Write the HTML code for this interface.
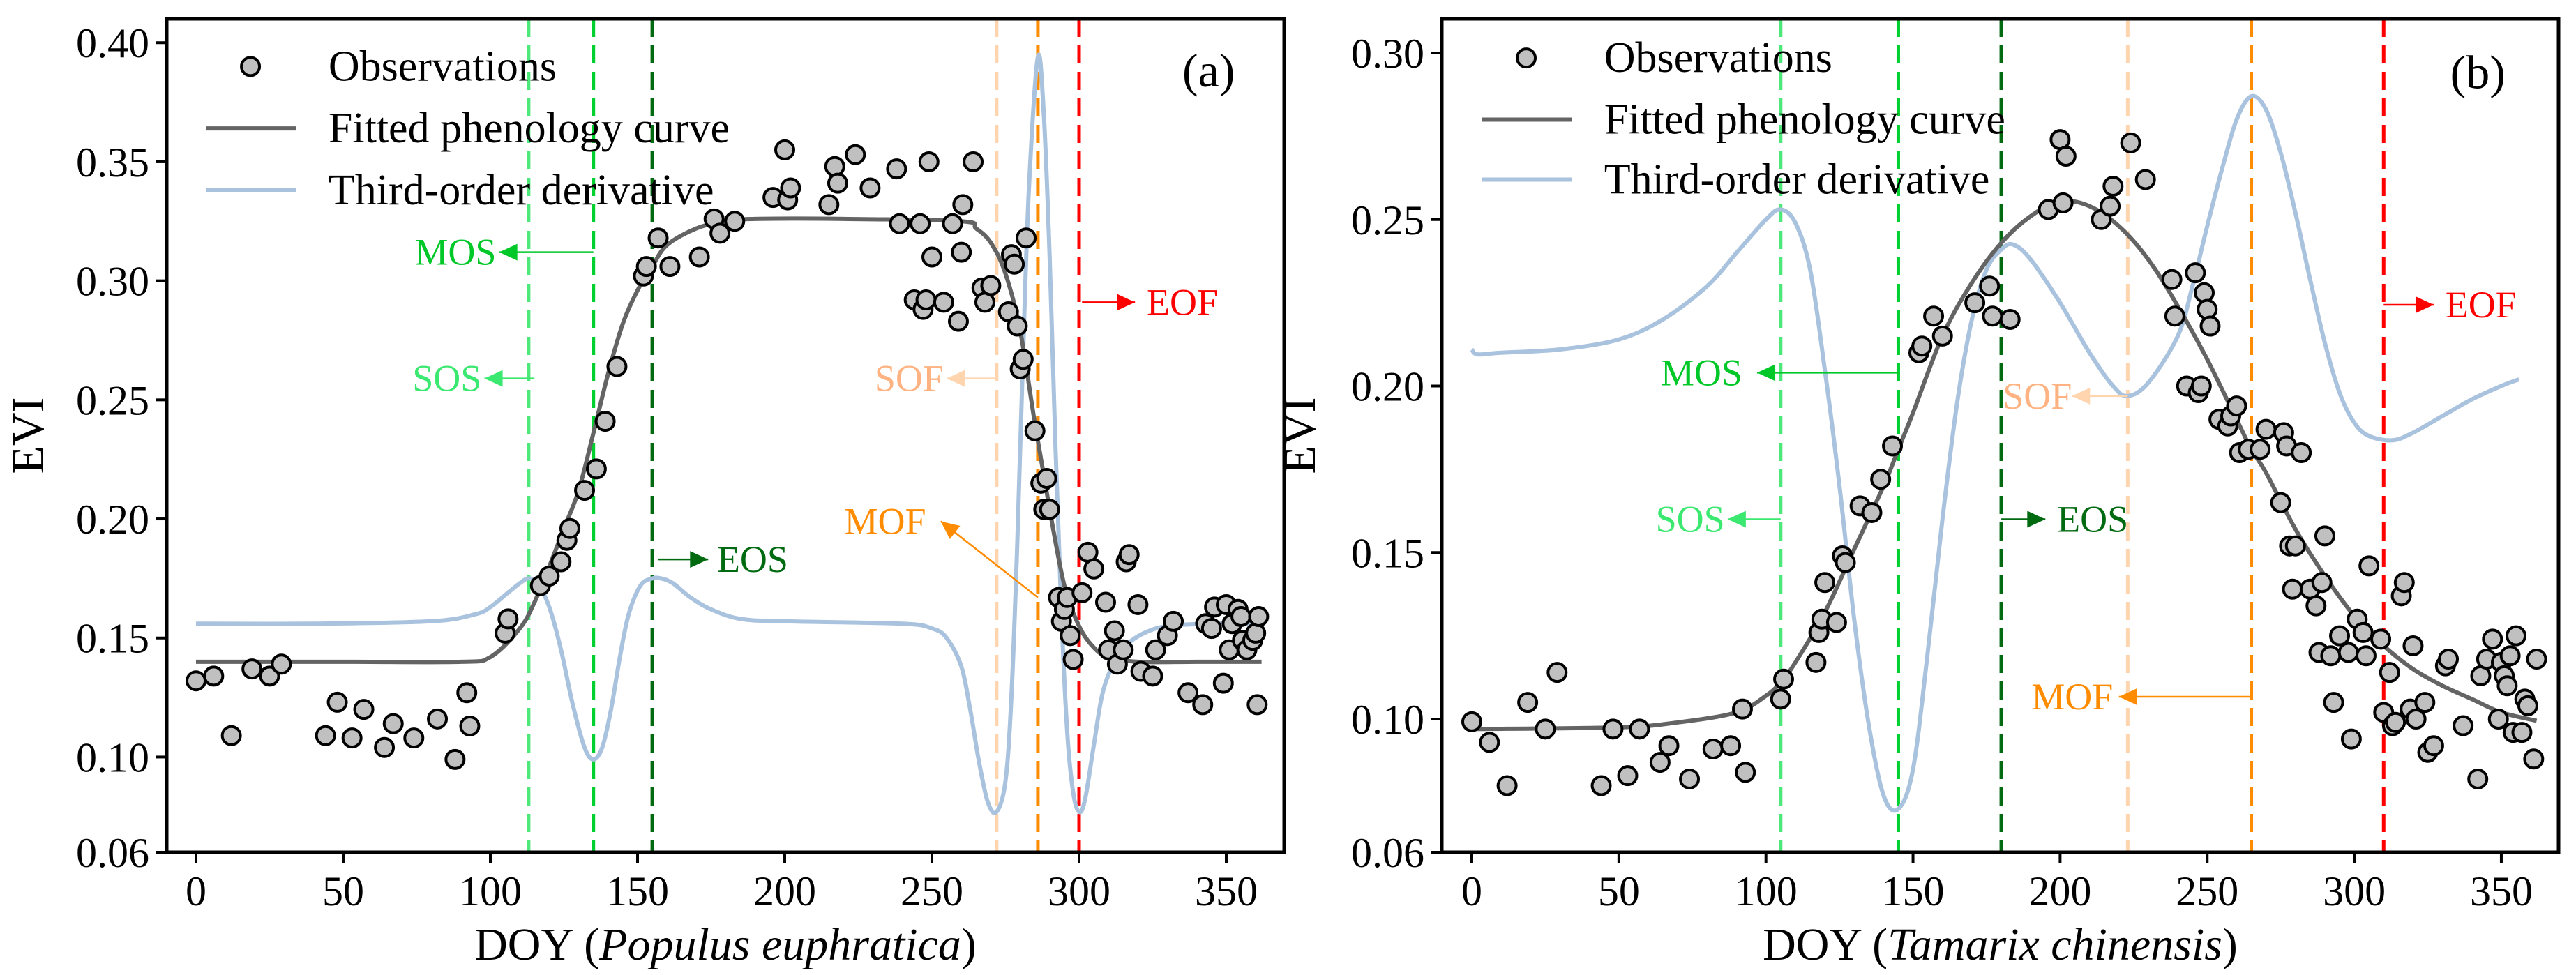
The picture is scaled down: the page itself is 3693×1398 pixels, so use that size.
<!DOCTYPE html>
<html><head><meta charset="utf-8"><style>
html,body{margin:0;padding:0;background:#fff;}
svg{display:block;}
svg text{font-family:"Liberation Serif","DejaVu Serif",serif;}
</style></head><body>
<svg id="fig" width="3693" height="1398" viewBox="0 0 3693 1398" font-family="Liberation Serif, DejaVu Serif, serif"></svg>
<script>
// ---------- Panel (a) data: Populus euphratica ----------
const obsDayA=[0,6,12,19,25,29,44,48,53,57,64,67,74,82,88,92,93,105,106,117,120,124,126,127,132,136,139,143,152,153,157,161,171,176,178,183,196,200,201,202,215,217,218,224,229,238,239,244,246,247,248,249,250,254,257,259,260,260.5,264,267,268,270,276,277,278,279,280,281,282,285,287,289,288,290,293,294,295,296,297,298,301,303,305,309,310,312,313,315,316,317,320,321,325,326,330,332,337,342,343,345,346,349,350,351,352,354,355,355.5,357,359,360,361,360.5];
const obsEviA=[0.132,0.134,0.109,0.137,0.134,0.139,0.109,0.123,0.108,0.120,0.104,0.114,0.108,0.116,0.099,0.127,0.113,0.152,0.158,0.172,0.176,0.182,0.191,0.196,0.212,0.221,0.241,0.264,0.302,0.306,0.318,0.306,0.310,0.326,0.320,0.325,0.335,0.355,0.334,0.339,0.332,0.348,0.341,0.353,0.339,0.347,0.324,0.292,0.324,0.288,0.292,0.350,0.310,0.291,0.324,0.283,0.312,0.332,0.350,0.297,0.291,0.298,0.287,0.311,0.307,0.281,0.263,0.267,0.318,0.237,0.215,0.217,0.204,0.204,0.167,0.157,0.162,0.167,0.151,0.141,0.169,0.186,0.179,0.165,0.145,0.153,0.139,0.145,0.182,0.185,0.164,0.136,0.134,0.145,0.151,0.157,0.127,0.122,0.156,0.154,0.163,0.131,0.164,0.145,0.156,0.162,0.159,0.149,0.145,0.149,0.152,0.159,0.122];
const fitDayA=[0,50,90,100,110,115,120,125,130,135,140,145,150,155,160,170,180,190,220,260,265,270,275,280,285,290,295,300,305,310,320,340,362];
const fitEviA=[0.140,0.140,0.140,0.142,0.154,0.165,0.180,0.196,0.212,0.236,0.261,0.282,0.296,0.306,0.315,0.322,0.325,0.326,0.326,0.325,0.322,0.316,0.303,0.279,0.240,0.204,0.172,0.155,0.146,0.142,0.140,0.140,0.140];
const derDayA=[0,40,80,95,100,105,110,113,116,120,124,128,132,135,138,141,144,147,151,155,158,162,168,175,185,200,240,250,255,260,263,266,269,272,275,277,279,281,283,286,288,290,292,294,296,298,300,302,305,308,312,316,322,330,345,362];
const derEviA=[0.156,0.156,0.157,0.160,0.163,0.168,0.173,0.175,0.173,0.163,0.145,0.122,0.104,0.099,0.104,0.120,0.142,0.160,0.172,0.175,0.175,0.173,0.167,0.162,0.158,0.157,0.156,0.154,0.150,0.138,0.120,0.098,0.081,0.077,0.090,0.125,0.190,0.270,0.340,0.394,0.370,0.310,0.230,0.160,0.110,0.085,0.077,0.082,0.105,0.127,0.140,0.147,0.152,0.155,0.156,0.156];
const evNamesA=["SOS","MOS","EOS","SOF","MOF","EOF"];
const evDaysA=[113,135,155,272,286,300];

// ---------- Panel (b) data: Tamarix chinensis ----------
const obsDayB=[0,6,12,19,25,29,44,48,53,57,64,67,74,82,88,92,93,105,106,117,118,119,120,124,126,127,132,136,139,143,152,153,157,160,171,176,177,183,196,200,201,202,214,217,218,224,229,238,239,243,246,247,248,249,250,251,254,257,258,260,261,264,268,270,276,277,275,282,278,280,279,285,287,289,288,290,292,293,295,298,299,301,303,304,305,309,310,312,313,314,316,317,319,320,321,324,325,327,331,332,337,342,343,345,347,349,350,351,352,353,355,354,357,358,359,361,362];
const obsEviB=[0.0992,0.093,0.080,0.105,0.097,0.114,0.080,0.097,0.083,0.097,0.087,0.092,0.082,0.091,0.092,0.103,0.084,0.106,0.112,0.117,0.126,0.130,0.141,0.129,0.149,0.147,0.164,0.162,0.172,0.182,0.210,0.212,0.221,0.215,0.225,0.230,0.221,0.220,0.253,0.274,0.255,0.269,0.250,0.254,0.260,0.273,0.262,0.232,0.221,0.200,0.234,0.198,0.200,0.228,0.223,0.218,0.190,0.188,0.191,0.194,0.180,0.181,0.181,0.187,0.186,0.182,0.165,0.180,0.152,0.152,0.139,0.139,0.134,0.141,0.120,0.155,0.119,0.105,0.125,0.120,0.094,0.130,0.126,0.119,0.146,0.124,0.102,0.114,0.098,0.099,0.137,0.141,0.103,0.122,0.100,0.105,0.090,0.092,0.116,0.118,0.098,0.082,0.113,0.118,0.124,0.100,0.117,0.113,0.110,0.119,0.125,0.096,0.096,0.106,0.104,0.088,0.118];
const fitDayB=[0,50,70,90,100,105,110,120,130,140,145,150,160,170,180,190,200,210,220,230,240,250,260,265,270,280,290,300,310,320,330,340,350,362];
const fitEviB=[0.097,0.0975,0.099,0.102,0.107,0.111,0.117,0.132,0.151,0.170,0.181,0.192,0.215,0.231,0.243,0.251,0.2555,0.254,0.248,0.238,0.224,0.208,0.190,0.181,0.174,0.157,0.143,0.131,0.122,0.115,0.110,0.106,0.102,0.0995];
const derDayB=[0,2,10,30,50,65,80,90,100,105,110,115,120,125,130,135,140,145,150,155,160,165,170,175,180,184,190,200,210,218,223,230,240,245,250,255,260,265,270,275,280,285,290,295,300,305,313,320,330,340,350,356];
const derEviB=[0.211,0.2095,0.210,0.211,0.214,0.220,0.230,0.240,0.250,0.253,0.249,0.235,0.205,0.170,0.130,0.098,0.077,0.073,0.085,0.120,0.160,0.195,0.220,0.235,0.241,0.2425,0.238,0.225,0.210,0.200,0.197,0.201,0.215,0.230,0.248,0.265,0.280,0.287,0.283,0.270,0.252,0.232,0.213,0.198,0.189,0.185,0.1837,0.186,0.191,0.196,0.200,0.202];
const evNamesB=["SOS","MOS","EOS","SOF","MOF","EOF"];
const evDaysB=[105,145,180,223,265,310];

const yTicksA=[0.06,0.10,0.15,0.20,0.25,0.30,0.35,0.40];
const yTicksB=[0.06,0.10,0.15,0.20,0.25,0.30];
const xTicks=[0,50,100,150,200,250,300,350];

const NS="http://www.w3.org/2000/svg";
const FONT="Liberation Serif, DejaVu Serif, serif";
const svg=document.getElementById('fig');
function mk(tag,attrs,parent){const e=document.createElementNS(NS,tag);for(const k in attrs)e.setAttribute(k,attrs[k]);if(tag==='text')e.setAttribute('font-family',FONT);(parent||svg).appendChild(e);return e;}

const evColors={SOS:"#4ee87a",MOS:"#00d030",EOS:"#006a10",SOF:"#ffd5b0",MOF:"#ff8c00",EOF:"#ff0000"};
const evTextColors={SOS:"#3be870",MOS:"#00c828",EOS:"#006a10",SOF:"#ffb383",MOF:"#ff8c00",EOF:"#ff0000"};

function smoothPath(pts){
  let d="M"+pts[0][0].toFixed(1)+","+pts[0][1].toFixed(1);
  for(let i=0;i<pts.length-1;i++){
    const p0=pts[i-1]||pts[i],p1=pts[i],p2=pts[i+1],p3=pts[i+2]||p2;
    const c1=[p1[0]+(p2[0]-p0[0])/6,p1[1]+(p2[1]-p0[1])/6];
    const c2=[p2[0]-(p3[0]-p1[0])/6,p2[1]-(p3[1]-p1[1])/6];
    d+=" C"+c1[0].toFixed(1)+","+c1[1].toFixed(1)+" "+c2[0].toFixed(1)+","+c2[1].toFixed(1)+" "+p2[0].toFixed(1)+","+p2[1].toFixed(1);
  }
  return d;
}

function arrow(g,x1,y1,x2,y2,color){
  const line=mk('line',{x1:x1,y1:y1,x2:x2,y2:y2,stroke:color,'stroke-width':2.5},g);
  
  
  const ang=Math.atan2(y2-y1,x2-x1),L=26,W=12;
  const bx=x2-L*Math.cos(ang),by=y2-L*Math.sin(ang);
  const px=-Math.sin(ang)*W,py=Math.cos(ang)*W;
  const head=mk('polygon',{points:`${x2},${y2} ${bx+px},${by+py} ${bx-px},${by-py}`,fill:color},g);
  
  
}

function panel(cfg){
  const g=mk('g',{});
  
  
  const X=d=>cfg.x0+d*cfg.xs;
  const Y=v=>cfg.yBot-(v-0.06)/0.05*cfg.ys;
  const L=cfg.left,R=cfg.right,T=27,B=1222;
  const clipId=cfg.name+"-clip";
  const cp=mk('clipPath',{id:clipId},g);mk('rect',{x:L,y:T,width:R-L,height:B-T},cp);
  const plot=mk('g',{'clip-path':`url(#${clipId})`},g);
  
  
  cfg.evNames.forEach((n,i)=>{
    const x=X(cfg.evDays[i]);
    const l=mk('line',{x1:x,y1:T,x2:x,y2:B,stroke:evColors[n],'stroke-width':5,'stroke-dasharray':'26,12'},plot);
    
    
  });
  const der=mk('path',{d:smoothPath(cfg.derDay.map((d,i)=>[X(d),Y(cfg.derEvi[i])])),fill:'none',stroke:'#a9c2de','stroke-width':6,'stroke-linejoin':'round'},plot);
  
  
  const fit=mk('path',{d:smoothPath(cfg.fitDay.map((d,i)=>[X(d),Y(cfg.fitEvi[i])])),fill:'none',stroke:'#646464','stroke-width':6},plot);
  
  
  cfg.obsDay.forEach((d,i)=>{
    const c=mk('circle',{cx:X(d),cy:Y(cfg.obsEvi[i]),r:13,fill:'#c0c0c0',stroke:'#000','stroke-width':4},plot);
    
    
  });
  cfg.ann.forEach(a=>{
    const col=evTextColors[a.n];
    const ag=mk('g',{},g);
    
    
    arrow(ag,X(a.ax1),Y(a.ay1),X(a.ax2),Y(a.ay2),evColors[a.n]==="#ffd5b0"?"#ffd5b0":col);
    const t=mk('text',{x:X(a.tx),y:Y(a.ty)+18,'font-size':54,fill:col,'text-anchor':a.anchor},ag);
    t.textContent=a.n;
    
    
  });
  const box=mk('rect',{x:L,y:T,width:R-L,height:B-T,fill:'none',stroke:'#000','stroke-width':5},g);
  
  
  xTicks.forEach(t=>{
    const x=X(t);
    const tl=mk('line',{x1:x,y1:B,x2:x,y2:B+15,stroke:'#000','stroke-width':4},g);
    
    
    const tx=mk('text',{x:x,y:1298,'font-size':60,'text-anchor':'middle'},g);
    tx.textContent=t;
    
    
  });
  cfg.yTicks.forEach(t=>{
    const y=Y(t);
    const tl=mk('line',{x1:L-15,y1:y,x2:L,y2:y,stroke:'#000','stroke-width':4},g);
    
    
    const tx=mk('text',{x:L-25,y:y+21,'font-size':60,'text-anchor':'end'},g);
    tx.textContent=t.toFixed(2);
    
    
  });
  const yl=mk('text',{x:0,y:0,'font-size':66,'text-anchor':'middle',transform:`translate(${cfg.yLabX},${(T+B)/2}) rotate(-90)`},g);
  yl.textContent="EVI";
  
  
  const xl=mk('text',{x:(L+R)/2,y:1376,'font-size':66,'text-anchor':'middle'},g);
  
  
  const s1=mk('tspan',{},xl);s1.textContent="DOY (";
  const s2=mk('tspan',{'font-style':'italic'},xl);s2.textContent=cfg.species;
  const s3=mk('tspan',{},xl);s3.textContent=")";
  const pl=mk('text',{x:X(cfg.plX),y:Y(cfg.plY)+22,'font-size':68,'text-anchor':'middle'},g);
  pl.textContent=cfg.pl;
  
  
  const lg=mk('g',{},g);
  
  
  const labels=["Observations","Fitted phenology curve","Third-order derivative"];
  cfg.legY.forEach((v,i)=>{
    const y=Y(v);
    const e=mk('g',{},lg);
    
    
    if(i===0) mk('circle',{cx:X(18.5),cy:y,r:13,fill:'#c0c0c0',stroke:'#000','stroke-width':4},e);
    else mk('line',{x1:X(3.5),y1:y,x2:X(34),y2:y,stroke:i===1?'#646464':'#a9c2de','stroke-width':6},e);
    const t=mk('text',{x:X(45),y:y+20,'font-size':62},e);
    t.textContent=labels[i];
  });
}

panel({name:'panel-a-populus',x0:281,xs:4.22,yBot:1222,ys:170.7,left:239,right:1841,
  obsDay:obsDayA,obsEvi:obsEviA,fitDay:fitDayA,fitEvi:fitEviA,derDay:derDayA,derEvi:derEviA,
  evNames:evNamesA,evDays:evDaysA,yTicks:yTicksA,yLabX:62,species:"Populus euphratica",pl:"(a)",plX:344,plY:0.388,
  legY:[0.390,0.364,0.338],
  ann:[
    {n:"MOS",ax1:135,ay1:0.312,ax2:103,ay2:0.312,tx:102,ty:0.312,anchor:'end'},
    {n:"SOS",ax1:115,ay1:0.259,ax2:98,ay2:0.259,tx:97,ty:0.259,anchor:'end'},
    {n:"EOS",ax1:157,ay1:0.183,ax2:174,ay2:0.183,tx:177,ty:0.183,anchor:'start'},
    {n:"EOF",ax1:301,ay1:0.291,ax2:319,ay2:0.291,tx:323,ty:0.291,anchor:'start'},
    {n:"SOF",ax1:272,ay1:0.259,ax2:255,ay2:0.259,tx:254,ty:0.259,anchor:'end'},
    {n:"MOF",ax1:286,ay1:0.167,ax2:253,ay2:0.199,tx:248,ty:0.199,anchor:'end'}
  ]});
panel({name:'panel-b-tamarix',x0:2110,xs:4.217,yBot:1222,ys:238.75,left:2067,right:3668,
  obsDay:obsDayB,obsEvi:obsEviB,fitDay:fitDayB,fitEvi:fitEviB,derDay:derDayB,derEvi:derEviB,
  evNames:evNamesB,evDays:evDaysB,yTicks:yTicksB,yLabX:1885,species:"Tamarix chinensis",pl:"(b)",plX:342,plY:0.294,
  legY:[0.2985,0.280,0.262],
  ann:[
    {n:"MOS",ax1:145,ay1:0.204,ax2:97,ay2:0.204,tx:92,ty:0.204,anchor:'end'},
    {n:"SOS",ax1:105,ay1:0.160,ax2:87,ay2:0.160,tx:86,ty:0.160,anchor:'end'},
    {n:"EOS",ax1:180,ay1:0.160,ax2:195,ay2:0.160,tx:199,ty:0.160,anchor:'start'},
    {n:"SOF",ax1:223,ay1:0.197,ax2:204,ay2:0.197,tx:204,ty:0.197,anchor:'end'},
    {n:"MOF",ax1:265,ay1:0.1067,ax2:220,ay2:0.1067,tx:218,ty:0.1067,anchor:'end'},
    {n:"EOF",ax1:310,ay1:0.2244,ax2:327,ay2:0.2244,tx:331,ty:0.2244,anchor:'start'}
  ]});
</script>
</body></html>
